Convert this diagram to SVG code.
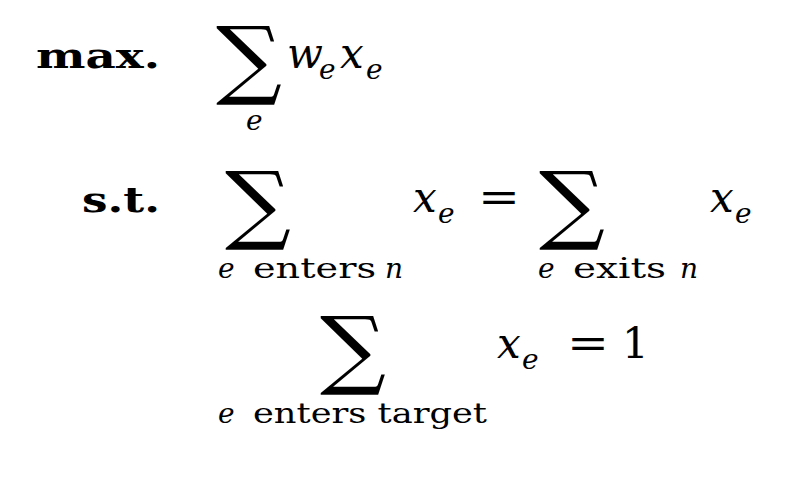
<svg xmlns="http://www.w3.org/2000/svg" width="789" height="487" viewBox="0 0 789 487">
<style>
.b{font-family:"DejaVu Serif",serif;font-weight:bold;font-size:36px}
.i{font-family:"DejaVu Serif",serif;font-style:italic;font-size:42px}
.s{font-family:"DejaVu Serif",serif;font-style:italic;font-size:28px}
.r{font-family:"DejaVu Serif",serif;font-size:42px}
.rs{font-family:"DejaVu Serif",serif;font-style:normal;font-size:27px}
.sig{font-family:"DejaVu Serif",serif;font-size:86px}
</style>
<rect width="789" height="487" fill="#fff"/>
<text class="b" x="36" y="68" textLength="124" lengthAdjust="spacingAndGlyphs">max.</text>
<text class="sig" x="216" y="88" textLength="66" lengthAdjust="spacingAndGlyphs">∑</text>
<text class="i" x="287" y="68">w</text><text class="s" x="319" y="79">e</text>
<text class="i" x="340" y="68">x</text><text class="s" x="366" y="79">e</text>
<text class="s" x="246" y="130">e</text>
<text class="b" x="82" y="212" textLength="78" lengthAdjust="spacingAndGlyphs">s.t.</text>
<text class="sig" x="225" y="233" textLength="66" lengthAdjust="spacingAndGlyphs">∑</text>
<text class="s" x="218" y="278"><tspan>e</tspan><tspan class="rs" x="253" textLength="123" lengthAdjust="spacingAndGlyphs">enters</tspan><tspan x="385">n</tspan></text>
<text class="i" x="413" y="212">x</text><text class="s" x="438" y="223">e</text>
<text class="r" x="478" y="212" textLength="42" lengthAdjust="spacingAndGlyphs">=</text>
<text class="sig" x="539" y="233" textLength="66" lengthAdjust="spacingAndGlyphs">∑</text>
<text class="s" x="538" y="278"><tspan>e</tspan><tspan class="rs" x="573" textLength="93" lengthAdjust="spacingAndGlyphs">exits</tspan><tspan x="680">n</tspan></text>
<text class="i" x="710" y="212">x</text><text class="s" x="735" y="223">e</text>
<text class="sig" x="320" y="378" textLength="66" lengthAdjust="spacingAndGlyphs">∑</text>
<text class="s" x="218" y="423"><tspan>e</tspan><tspan class="rs" x="253" textLength="234" lengthAdjust="spacingAndGlyphs">enters target</tspan></text>
<text class="i" x="497" y="358">x</text><text class="s" x="522" y="369">e</text>
<text class="r" x="567" y="358" textLength="42" lengthAdjust="spacingAndGlyphs">=</text>
<text class="r" x="622" y="358">1</text>
</svg>
